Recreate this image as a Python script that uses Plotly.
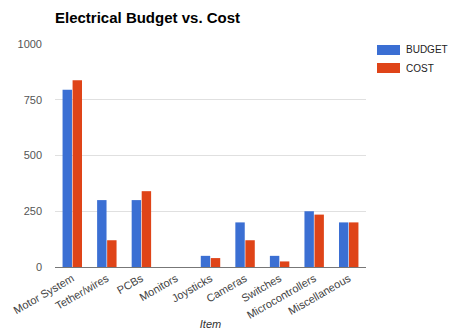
import plotly.graph_objects as go

items = ["Motor System", "Tether/wires", "PCBs", "Monitors", "Joysticks",
         "Cameras", "Switches", "Microcontrollers", "Miscellaneous"]
budget = [795, 300, 300, 0, 50, 200, 50, 250, 200]
cost = [838, 120, 340, 0, 40, 120, 25, 235, 200]
y_ticks = [0, 250, 500, 750, 1000]

series = [("BUDGET", budget, "#3b6fd3"), ("COST", cost, "#df4418")]

FONT = "Liberation Sans, Arial, sans-serif"

fig = go.Figure()
for name, vals, color in series:
    fig.add_trace(go.Bar(name=name, x=items, y=vals, marker=dict(color=color, line=dict(width=0)),
                         showlegend=False))

# legend drawn beside the plot: colour swatch plus label for each series
for i, (name, vals, color) in enumerate(series):
    yc = 50 + 18 * i
    fig.add_shape(type="rect", xref="paper", yref="paper",
                  x0=(377 - 55) / 311, x1=(400 - 55) / 311,
                  y0=(267 - (yc + 5)) / 223, y1=(267 - (yc - 5)) / 223,
                  fillcolor=color, line=dict(width=0))
    fig.add_annotation(text=name, xref="paper", yref="paper",
                       x=(404 - 55) / 311, y=(267 - yc) / 223, xanchor="left", yanchor="middle",
                       showarrow=False, font=dict(family=FONT, size=10, color="#222"))

fig.update_layout(
    width=451, height=331,
    margin=dict(l=55, r=85, t=44, b=64, autoexpand=False),
    paper_bgcolor="white", plot_bgcolor="white",
    barmode="group", bargap=0.42, bargroupgap=0.06,
    font=dict(family=FONT, size=11, color="#444"),
    title=dict(text="<b>Electrical Budget vs. Cost</b>", x=55 / 451, xanchor="left",
               xref="container", y=1 - 18 / 331, yanchor="middle", yref="container",
               font=dict(family=FONT, size=15, color="#000")),
    showlegend=False,
    xaxis=dict(tickangle=-30, tickfont=dict(size=11, color="#444"), automargin=False,
               title=dict(text="<i>Item</i>", standoff=0, font=dict(size=11, color="#333")),
               showline=True, linecolor="#777", linewidth=1, ticks=""),
    yaxis=dict(range=[0, 1000], tickvals=y_ticks, gridcolor="#e0e0e0", automargin=False,
               zeroline=False, showline=False, ticks="", ticklabelstandoff=12,
               tickfont=dict(size=11, color="#555")),
)

fig.write_html("out.html")
